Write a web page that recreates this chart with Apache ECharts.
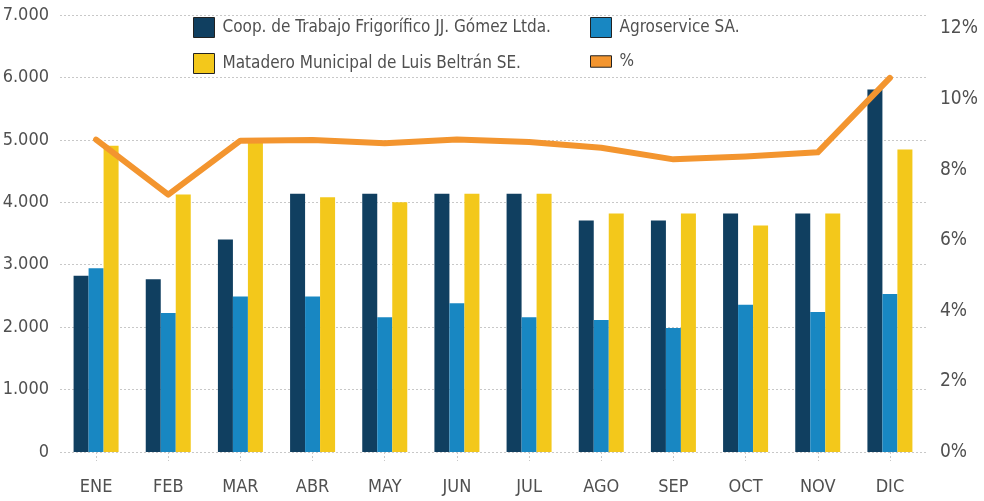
<!DOCTYPE html>
<html>
<head>
    <meta charset="utf-8">
    <title>Faena mensual por establecimiento</title>
    <script src="https://cdn.jsdelivr.net/npm/echarts@6/dist/echarts.min.js"></script>
    <style>
        html, body { margin: 0; padding: 0; background: #fff; }
        #chart { width: 984px; height: 501px; }
    </style>
</head>
<body>
    <div id="chart"></div>
    <script>
        // datos
        const meses = ['ENE', 'FEB', 'MAR', 'ABR', 'MAY', 'JUN', 'JUL', 'AGO', 'SEP', 'OCT', 'NOV', 'DIC'];
        const coop = [2825, 2766, 3402, 4135, 4135, 4135, 4135, 3707, 3707, 3819, 3819, 5805];
        const agro = [2945, 2228, 2489, 2489, 2157, 2381, 2157, 2115, 1987, 2360, 2244, 2529];
        const matadero = [4905, 4123, 4985, 4080, 4000, 4135, 4135, 3819, 3819, 3627, 3819, 4845];
        const porcentaje = [8.85, 7.29, 8.82, 8.84, 8.75, 8.85, 8.78, 8.62, 8.29, 8.37, 8.49, 10.6];

        const nombres = [
            'Coop. de Trabajo Frigorífico JJ. Gómez Ltda.',
            'Agroservice SA.',
            'Matadero Municipal de Luis Beltrán SE.',
            '%'
        ];

        // letra condensada: DejaVu Sans con font-stretch en el shorthand
        const fuente = "'DejaVu Sans', sans-serif";
        const estrecho = 'condensed';
        const gris = '#505050';
        const punteado = { color: '#c8c8c8', type: [2, 2], width: 1 };

        const chart = echarts.init(document.getElementById('chart'));

        const legendaBase = {
            orient: 'vertical',
            top: 12,
            itemWidth: 21,
            itemHeight: 20,
            itemGap: 15,
            icon: 'rect',
            textStyle: { fontFamily: fuente, fontWeight: estrecho, fontSize: 17, color: gris, padding: [0, 0, 0, 3] },
            itemStyle: { borderColor: '#222', borderWidth: 1 }
        };

        chart.setOption({
            animation: false,
            textStyle: { fontFamily: fuente },
            legend: [
                Object.assign({}, legendaBase, { left: 188, data: [nombres[0], nombres[2]] }),
                Object.assign({}, legendaBase, {
                    left: 585,
                    data: [nombres[1], { name: nombres[3], icon: 'path://M0,0 L22,0 L22,12 L0,12 Z' }]
                })
            ],
            grid: { left: 60, right: 58, top: 15, bottom: 49, outerBoundsMode: 'none' },
            xAxis: {
                type: 'category',
                data: meses,
                axisLine: { show: false },
                axisTick: { show: true, alignWithLabel: true, length: 9, lineStyle: punteado },
                axisLabel: { fontFamily: fuente, fontWeight: estrecho, fontSize: 18, color: gris, margin: 26 }
            },
            yAxis: [
                {
                    type: 'value',
                    min: 0,
                    max: 7000,
                    interval: 1000,
                    axisLine: { show: false },
                    axisTick: { show: false },
                    splitLine: { show: true, lineStyle: punteado },
                    axisLabel: {
                        fontFamily: fuente, fontWeight: estrecho, fontSize: 18, color: gris, margin: 11,
                        formatter: v => v === 0 ? '0' : v.toLocaleString('de-DE')
                    }
                },
                {
                    type: 'value',
                    min: 0,
                    max: 12.38,
                    interval: 2,
                    axisLine: { show: false },
                    axisTick: { show: false },
                    splitLine: { show: false },
                    axisLabel: {
                        fontFamily: fuente, fontWeight: estrecho, fontSize: 19, color: gris, margin: 14,
                        showMaxLabel: false,
                        formatter: v => v + '%'
                    }
                }
            ],
            series: [
                {
                    name: nombres[0], type: 'bar', data: coop,
                    barWidth: 15, barGap: '0%',
                    itemStyle: { color: '#103f60' }
                },
                {
                    name: nombres[1], type: 'bar', data: agro,
                    barWidth: 15, barGap: '0%',
                    itemStyle: { color: '#1887c2' }
                },
                {
                    name: nombres[2], type: 'bar', data: matadero,
                    barWidth: 15, barGap: '0%',
                    itemStyle: { color: '#f3c81b' }
                },
                {
                    name: nombres[3], type: 'line', data: porcentaje,
                    yAxisIndex: 1,
                    symbol: 'none',
                    lineStyle: { color: '#f3952f', width: 6, cap: 'round', join: 'round' },
                    itemStyle: { color: '#f3952f' },
                    z: 5
                }
            ]
        });
    </script>
</body>
</html>
